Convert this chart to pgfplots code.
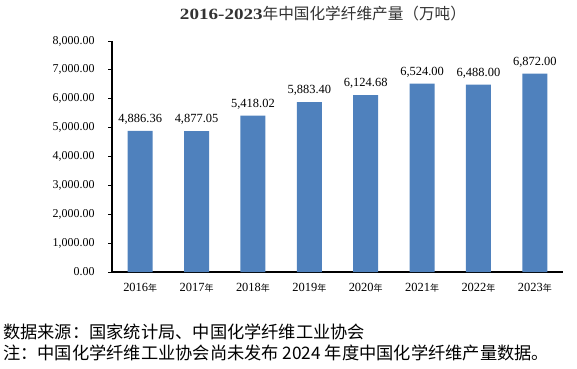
\documentclass[border=0pt]{standalone}
\usepackage{fontspec}
\setmainfont{Liberation Serif}
\newfontfamily\cjk{Noto Sans CJK SC}
\usepackage{pgfplots}
\pgfplotsset{compat=1.18}
\definecolor{barblue}{HTML}{4F81BD}
\begin{document}
\begin{tikzpicture}[x=1bp,y=1bp]
\path[use as bounding box] (0,0) rectangle (577,368);
\begin{axis}[
  at={(112bp,96bp)}, anchor=south west,
  scale only axis, width=451bp, height=231bp,
  xmin=-0.5, xmax=7.5, ymin=0, ymax=8000,
  axis x line*=bottom, axis y line*=left,
  axis line style={black, line width=1.2pt, -},
  xtick=data,
  xticklabels={2016{\cjk\small 年},2017{\cjk\small 年},2018{\cjk\small 年},2019{\cjk\small 年},2020{\cjk\small 年},2021{\cjk\small 年},2022{\cjk\small 年},2023{\cjk\small 年}},
  x tick style={draw=none},
  ytick={0,1000,...,8000},
  y tick style={black, line width=1pt},
  tick align=outside, major tick length=4bp,
  /pgf/number format/assume math mode=true,
  yticklabel style={/pgf/number format/.cd, fixed, fixed zerofill, precision=2, 1000 sep={,}, /tikz/.cd, font=\fontsize{12}{14}\selectfont, xshift=-10bp},
  xticklabel style={font=\fontsize{12.5}{14}\selectfont, yshift=-4bp},
  enlargelimits=false, clip=false,
  nodes near coords,
  every node near coord/.append style={font=\fontsize{12.5}{14}\selectfont, /pgf/number format/.cd, fixed, fixed zerofill, precision=2, 1000 sep={,}, /tikz/.cd, yshift=3bp},
]
\addplot[ybar, bar width=25bp, fill=barblue, draw=none] coordinates {
(0,4886.36) (1,4877.05) (2,5418.02) (3,5883.40) (4,6124.68) (5,6524.00) (6,6488.00) (7,6872.00)};
\end{axis}
\node[font=\fontsize{15.7}{17}\selectfont, text=black!80, inner sep=0pt] at (323,354) {\scalebox{1.22}[1]{\textbf{2016-2023}}{\cjk 年中国化学纤维产量（万吨）}};
\node[anchor=west, font=\fontsize{17.3}{19}\selectfont\cjk, inner sep=0pt] at (3,36) {数据来源：国家统计局、中国化学纤维工业协会};
\node[anchor=west, font=\fontsize{17.3}{19}\selectfont\cjk, inner sep=0pt] at (3,15) {注：中国化学纤维工业协会尚未发布 2024 年度中国化学纤维产量数据。};
\end{tikzpicture}
\end{document}
